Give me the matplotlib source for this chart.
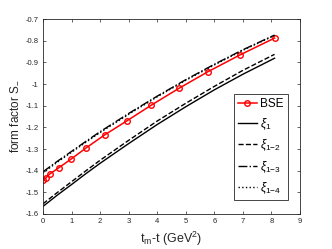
import numpy as np
import matplotlib
matplotlib.use("Agg")
import matplotlib.pyplot as plt

plt.rcParams['font.family'] = ['Liberation Sans', 'DejaVu Sans']
plt.rcParams['mathtext.fontset'] = 'custom'
plt.rcParams['mathtext.rm'] = 'Liberation Sans'
plt.rcParams['mathtext.it'] = 'Liberation Sans:italic'

# BSE points
bse_x = [0.0, 0.09, 0.24, 0.56, 0.99, 1.52, 2.17, 2.95, 3.80, 4.76, 5.78, 6.91, 8.11]
bse_y = [-1.443, -1.435, -1.415, -1.386, -1.346, -1.294, -1.234, -1.169,
         -1.097, -1.020, -0.943, -0.865, -0.788]

# fitted curves
fit_x = [0, 0.5, 1, 1.5, 2, 3, 4, 5, 6, 7, 8.11]
xi1 = [-1.565, -1.513, -1.464, -1.414, -1.366, -1.275, -1.187, -1.105, -1.027, -0.955, -0.881]
xi12 = [-1.553, -1.501, -1.451, -1.401, -1.352, -1.260, -1.171, -1.089, -1.011, -0.937, -0.863]
xi13 = [-1.405, -1.357, -1.311, -1.265, -1.220, -1.136, -1.056, -0.980, -0.909, -0.842, -0.774]
xi14 = [-1.410, -1.361, -1.315, -1.269, -1.224, -1.140, -1.059, -0.983, -0.912, -0.844, -0.776]

xticks = np.arange(0, 10, 1)
yticks = np.arange(-1.6, -0.65, 0.1)

gray = (0.15, 0.15, 0.15)

fig = plt.figure(figsize=(3.32, 2.49), dpi=100)
ax = fig.add_axes([0.1295, 0.1406, 0.774, 0.783])

ax.plot(bse_x, bse_y, "-o", color="red", lw=1.1, ms=4, mfc="none", mew=1, label="BSE")
ax.plot(fit_x, xi1, "-", color="black", lw=1.0, label=r"$\xi_1$")
ax.plot(fit_x, xi12, "--", color="black", lw=1.0, label=r"$\xi_{1\mathrm{-}2}$")
ax.plot(fit_x, xi13, "-.", color="black", lw=1.0, label=r"$\xi_{1\mathrm{-}3}$")
ax.plot(fit_x, xi14, ":", color="black", lw=1.0, label=r"$\xi_{1\mathrm{-}4}$")

ax.set_xlim(0, 9)
ax.set_ylim(-1.6, -0.7)
ax.set_xticks(xticks)
ax.set_yticks(yticks)
ax.set_yticklabels(["-1.6", "-1.5", "-1.4", "-1.3", "-1.2", "-1.1", "-1", "-0.9", "-0.8", "-0.7"])
ax.tick_params(direction="in", top=True, right=True, length=2.5, width=0.5,
               labelsize=5.5, colors=gray, pad=3)
for s in ax.spines.values():
    s.set_color(gray)
    s.set_linewidth(0.6)

ax.set_xlabel(r"t$_{\rm m}$-t (GeV$^2$)", fontsize=9, color=gray, labelpad=3)
ax.set_ylabel(r"form factor S$_{\mathrm{-}}$", fontsize=8.5, color=gray, labelpad=4)

leg = ax.legend(loc="lower right", bbox_to_anchor=(0.953, 0.07), fontsize=8.5,
                frameon=True, fancybox=False, edgecolor=gray, framealpha=1,
                handlelength=1.6, handletextpad=0.3, borderpad=0.35, labelspacing=0.5,
                borderaxespad=0)
leg.get_frame().set_linewidth(0.6)

fig.savefig("out.png", dpi=100)
